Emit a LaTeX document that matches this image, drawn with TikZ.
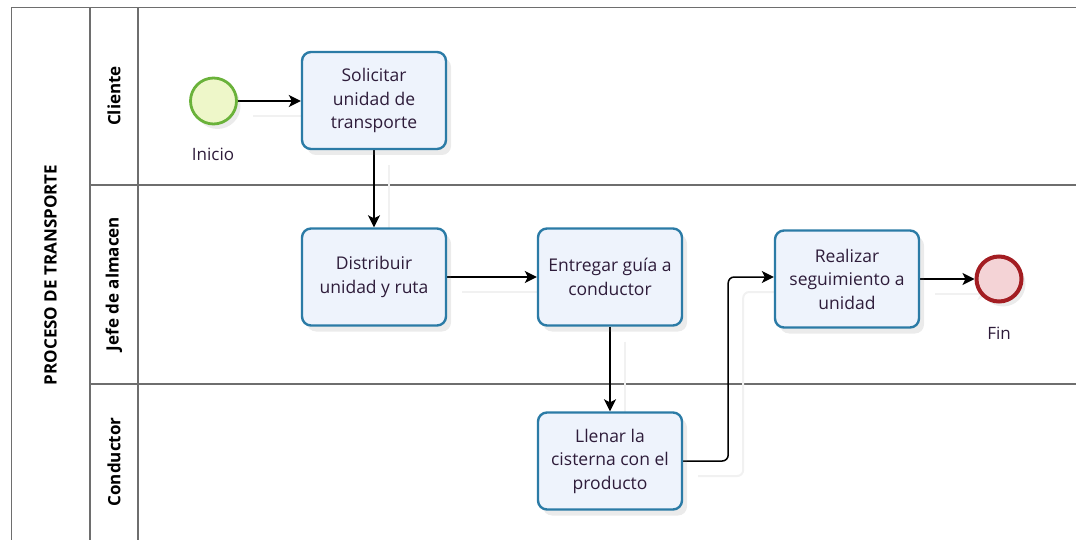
\documentclass[tikz,border=0pt]{standalone}
\usepackage{fontspec}
\setmainfont{Open Sans}
\usetikzlibrary{arrows.meta,shadows}
\definecolor{laneline}{HTML}{6E6E6E}
\definecolor{taskline}{HTML}{2B7BA6}
\definecolor{taskfill}{HTML}{EEF3FC}
\definecolor{txt}{HTML}{2E1C3A}
\definecolor{startline}{HTML}{6AB23A}
\definecolor{startfill}{HTML}{EEF7C9}
\definecolor{endline}{HTML}{A31D22}
\definecolor{endfill}{HTML}{F4D3D6}
\definecolor{flowshade}{HTML}{F1F1F1}
\pgfdeclarelayer{lanes}
\pgfdeclarelayer{flows}
\pgfsetlayers{lanes,flows,main}
\begin{document}
\begin{tikzpicture}[x=1pt,y=-1pt,
  lane/.style={draw=laneline,line width=1.6pt},
  lanelabel/.style={rotate=90,font=\bfseries\fontsize{17}{20}\selectfont,text=black},
  task/.style={rectangle,rounded corners=9pt,minimum width=144pt,minimum height=97pt,
    draw=taskline,line width=2.4pt,fill=taskfill,align=center,text=txt,
    font=\fontsize{17.5}{23.5}\selectfont,
    drop shadow={shadow xshift=5pt,shadow yshift=-6pt,opacity=0.16}},
  startev/.style={circle,minimum size=46pt,inner sep=0pt,draw=startline,line width=2.8pt,fill=startfill,
    drop shadow={shadow xshift=4pt,shadow yshift=-5pt,opacity=0.16}},
  endev/.style={circle,minimum size=45pt,inner sep=0pt,draw=endline,line width=4pt,fill=endfill,
    drop shadow={shadow xshift=4pt,shadow yshift=-5pt,opacity=0.16}},
  evlabel/.style={text=txt,font=\fontsize{17}{20}\selectfont},
  flow/.style={draw=black,line width=1.5pt,rounded corners=6pt,
    -{Stealth[length=12pt,width=12pt,inset=3pt]},
    preaction={draw=flowshade,line width=2pt,transform canvas={shift={(15pt,-15pt)}}}}
]
\useasboundingbox (0,0) rectangle (1076,540);

% pool and lanes
\begin{pgfonlayer}{lanes}
\draw[lane] (11.5,540) -- (11.5,7.5) -- (1076,7.5);
\draw[lane] (90,7.5) -- (90,540);
\draw[lane] (138,7.5) -- (138,540);
\draw[lane] (90,185) -- (1076,185);
\draw[lane] (90,384) -- (1076,384);
\end{pgfonlayer}

\node[lanelabel] (pool) at (50.5,275) {PROCESO DE TRANSPORTE};
\node[lanelabel] (lcli) at (114,96) {Cliente};
\node[lanelabel] (ljefe) at (114,284) {Jefe de almacen};
\node[lanelabel] (lcond) at (114,462) {Conductor};

% events
\node[startev] (inicio) at (213.5,101) {};
\node[evlabel] (inicioLbl) at (213,154) {Inicio};
\node[endev] (fin) at (999,279) {};
\node[evlabel] (finLbl) at (999,333) {Fin};

% tasks
\node[task] (solicitar) at (374,100.5) {Solicitar\\unidad de\\transporte};
\node[task] (distribuir) at (374,277) {Distribuir\\unidad y ruta};
\node[task] (entregar) at (610,277) {Entregar guía a\\conductor};
\node[task] (llenar) at (610,461) {Llenar la\\cisterna con el\\producto};
\node[task] (realizar) at (847,279) {Realizar\\seguimiento a\\unidad};

% sequence flows
\begin{pgfonlayer}{flows}
\draw[flow] (inicio) -- (inicio -| solicitar.west);
\draw[flow] (solicitar) -- (distribuir);
\draw[flow] (distribuir) -- (entregar);
\draw[flow] (entregar) -- (llenar);
\draw[flow] (llenar.east) -- ++(45,0) |- ([yshift=2pt]realizar.west);
\draw[flow] (realizar) -- (fin);
\end{pgfonlayer}
\end{tikzpicture}
\end{document}
